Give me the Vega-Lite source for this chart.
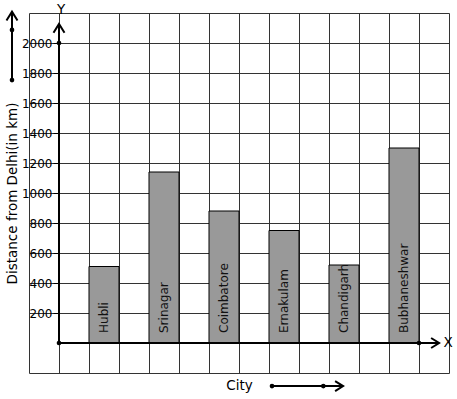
{
  "$schema": "https://vega.github.io/schema/vega-lite/v6.json",
  "width": 420,
  "height": 360,
  "autosize": {"type": "none"},
  "padding": {"left": 29, "top": 13, "right": 8, "bottom": 26},
  "background": "#ffffff",
  "config": {
    "view": {"stroke": "#333333", "strokeWidth": 1},
    "font": "DejaVu Sans",
    "axis": {"gridColor": "#333333", "gridOpacity": 1, "gridWidth": 1}
  },
  "resolve": {"scale": {"x": "independent"}},
  "layer": [
    {
      "data": {"values": [
        {"city": "Hubli", "distance": 510},
        {"city": "Srinagar", "distance": 1140},
        {"city": "Coimbatore", "distance": 880},
        {"city": "Ernakulam", "distance": 750},
        {"city": "Chandigarh", "distance": 520},
        {"city": "Bubhaneshwar", "distance": 1300}
      ]},
      "encoding": {
        "x": {"field": "city", "type": "nominal", "sort": null,
              "scale": {"type": "band", "paddingInner": 0.5, "paddingOuter": 0.75, "align": 0.6667},
              "axis": null}
      },
      "layer": [
        {
          "mark": {"type": "bar", "fill": "#999999", "stroke": "#000000", "strokeWidth": 1},
          "encoding": {
            "y": {"field": "distance", "type": "quantitative",
                  "scale": {"domain": [-200, 2200], "nice": false, "zero": false},
                  "axis": {"values": [200, 400, 600, 800, 1000, 1200, 1400, 1600, 1800, 2000],
                           "tickCount": 40, "format": "d", "labelOverlap": false,
                           "offset": -30, "domain": false, "tickSize": 6, "tickColor": "#000000",
                           "labelPadding": 1, "labelFontSize": 12, "labelColor": "#000000",
                           "grid": true, "title": "Distance from Delhi(in km)", "titleFontSize": 13.5,
                           "titleFontWeight": "normal", "titleColor": "#000000", "titlePadding": 2}},
            "y2": {"datum": 0}
          }
        },
        {
          "mark": {"type": "text", "angle": 270, "align": "left", "baseline": "middle", "dx": 10, "fontSize": 12, "color": "#111111"},
          "encoding": {
            "y": {"datum": 0, "type": "quantitative", "scale": {"domain": [-200, 2200], "nice": false, "zero": false}},
            "text": {"field": "city"}
          }
        }
      ]
    },
    {
      "data": {"values": [{}]},
      "layer": [
        {
          "mark": {"type": "rule", "color": "#000000", "strokeWidth": 2},
          "encoding": {
            "x": {"datum": 0, "type": "quantitative", "scale": {"domain": [-1, 13], "nice": false, "zero": false},
                  "axis": {"values": [0, 1, 2, 3, 4, 5, 6, 7, 8, 9, 10, 11, 12], "tickCount": 40, "grid": true, "labels": false, "ticks": false, "domain": false,
                           "title": "City", "titleFontSize": 13.5, "titleFontWeight": "normal", "titleColor": "#000000", "titlePadding": 5}},
            "x2": {"datum": 12.67},
            "y": {"datum": 0, "type": "quantitative", "scale": {"domain": [-200, 2200], "nice": false, "zero": false}}
          }
        },
        {
          "mark": {"type": "rule", "color": "#000000", "strokeWidth": 2},
          "encoding": {
            "x": {"datum": 0, "type": "quantitative", "scale": {"domain": [-1, 13], "nice": false, "zero": false}},
            "y": {"datum": 0, "type": "quantitative", "scale": {"domain": [-200, 2200], "nice": false, "zero": false}},
            "y2": {"datum": 2127}
          }
        },
        {
          "mark": {"type": "point", "shape": "M-1,1.6L0,0L1,1.6", "size": 121, "filled": false, "stroke": "#000000", "strokeWidth": 2, "opacity": 1},
          "encoding": {
            "x": {"datum": 0, "type": "quantitative", "scale": {"domain": [-1, 13], "nice": false, "zero": false}},
            "y": {"datum": 2127, "type": "quantitative", "scale": {"domain": [-200, 2200], "nice": false, "zero": false}}
          }
        },
        {
          "mark": {"type": "point", "shape": "M-1.6,-1L0,0L-1.6,1", "size": 100, "filled": false, "stroke": "#000000", "strokeWidth": 2, "opacity": 1},
          "encoding": {
            "x": {"datum": 12.67, "type": "quantitative", "scale": {"domain": [-1, 13], "nice": false, "zero": false}},
            "y": {"datum": 0, "type": "quantitative", "scale": {"domain": [-200, 2200], "nice": false, "zero": false}}
          }
        },
        {
          "mark": {"type": "point", "shape": "circle", "size": 22, "filled": true, "color": "#000000", "opacity": 1},
          "encoding": {
            "x": {"datum": 0, "type": "quantitative", "scale": {"domain": [-1, 13], "nice": false, "zero": false}},
            "y": {"datum": 0, "type": "quantitative", "scale": {"domain": [-200, 2200], "nice": false, "zero": false}}
          }
        },
        {
          "mark": {"type": "point", "shape": "circle", "size": 22, "filled": true, "color": "#000000", "opacity": 1},
          "encoding": {
            "x": {"datum": 0, "type": "quantitative", "scale": {"domain": [-1, 13], "nice": false, "zero": false}},
            "y": {"datum": 2000, "type": "quantitative", "scale": {"domain": [-200, 2200], "nice": false, "zero": false}}
          }
        },
        {
          "mark": {"type": "point", "shape": "circle", "size": 22, "filled": true, "color": "#000000", "opacity": 1},
          "encoding": {
            "x": {"datum": 12, "type": "quantitative", "scale": {"domain": [-1, 13], "nice": false, "zero": false}},
            "y": {"datum": 0, "type": "quantitative", "scale": {"domain": [-200, 2200], "nice": false, "zero": false}}
          }
        },
        {
          "mark": {"type": "text", "text": "X", "fontSize": 13.5, "color": "#000000", "align": "center", "baseline": "middle"},
          "encoding": {
            "x": {"datum": 12.97, "type": "quantitative", "scale": {"domain": [-1, 13], "nice": false, "zero": false}},
            "y": {"datum": 0, "type": "quantitative", "scale": {"domain": [-200, 2200], "nice": false, "zero": false}}
          }
        },
        {
          "mark": {"type": "text", "text": "Y", "fontSize": 13.5, "color": "#000000", "align": "center", "baseline": "middle"},
          "encoding": {
            "x": {"datum": 0.07, "type": "quantitative", "scale": {"domain": [-1, 13], "nice": false, "zero": false}},
            "y": {"datum": 2220, "type": "quantitative", "scale": {"domain": [-200, 2200], "nice": false, "zero": false}}
          }
        },
        {
          "mark": {"type": "rule", "color": "#000000", "strokeWidth": 2},
          "encoding": {
            "x": {"datum": -1.567, "type": "quantitative", "scale": {"domain": [-1, 13], "nice": false, "zero": false}},
            "y": {"datum": 1753, "type": "quantitative", "scale": {"domain": [-200, 2200], "nice": false, "zero": false}},
            "y2": {"datum": 2209}
          }
        },
        {
          "mark": {"type": "point", "shape": "M-1,1.6L0,0L1,1.6", "size": 121, "filled": false, "stroke": "#000000", "strokeWidth": 2, "opacity": 1},
          "encoding": {
            "x": {"datum": -1.567, "type": "quantitative", "scale": {"domain": [-1, 13], "nice": false, "zero": false}},
            "y": {"datum": 2209, "type": "quantitative", "scale": {"domain": [-200, 2200], "nice": false, "zero": false}}
          }
        },
        {
          "mark": {"type": "point", "shape": "circle", "size": 22, "filled": true, "color": "#000000", "opacity": 1},
          "encoding": {
            "x": {"datum": -1.567, "type": "quantitative", "scale": {"domain": [-1, 13], "nice": false, "zero": false}},
            "y": {"datum": 2087, "type": "quantitative", "scale": {"domain": [-200, 2200], "nice": false, "zero": false}}
          }
        },
        {
          "mark": {"type": "point", "shape": "circle", "size": 22, "filled": true, "color": "#000000", "opacity": 1},
          "encoding": {
            "x": {"datum": -1.567, "type": "quantitative", "scale": {"domain": [-1, 13], "nice": false, "zero": false}},
            "y": {"datum": 1753, "type": "quantitative", "scale": {"domain": [-200, 2200], "nice": false, "zero": false}}
          }
        },
        {
          "mark": {"type": "rule", "color": "#000000", "strokeWidth": 2},
          "encoding": {
            "x": {"datum": 7.1, "type": "quantitative", "scale": {"domain": [-1, 13], "nice": false, "zero": false}},
            "x2": {"datum": 9.47},
            "y": {"datum": -287, "type": "quantitative", "scale": {"domain": [-200, 2200], "nice": false, "zero": false}}
          }
        },
        {
          "mark": {"type": "point", "shape": "M-1.6,-1L0,0L-1.6,1", "size": 100, "filled": false, "stroke": "#000000", "strokeWidth": 2, "opacity": 1},
          "encoding": {
            "x": {"datum": 9.47, "type": "quantitative", "scale": {"domain": [-1, 13], "nice": false, "zero": false}},
            "y": {"datum": -287, "type": "quantitative", "scale": {"domain": [-200, 2200], "nice": false, "zero": false}}
          }
        },
        {
          "mark": {"type": "point", "shape": "circle", "size": 22, "filled": true, "color": "#000000", "opacity": 1},
          "encoding": {
            "x": {"datum": 7.1, "type": "quantitative", "scale": {"domain": [-1, 13], "nice": false, "zero": false}},
            "y": {"datum": -287, "type": "quantitative", "scale": {"domain": [-200, 2200], "nice": false, "zero": false}}
          }
        },
        {
          "mark": {"type": "point", "shape": "circle", "size": 22, "filled": true, "color": "#000000", "opacity": 1},
          "encoding": {
            "x": {"datum": 8.81, "type": "quantitative", "scale": {"domain": [-1, 13], "nice": false, "zero": false}},
            "y": {"datum": -287, "type": "quantitative", "scale": {"domain": [-200, 2200], "nice": false, "zero": false}}
          }
        }
      ]
    }
  ]
}
